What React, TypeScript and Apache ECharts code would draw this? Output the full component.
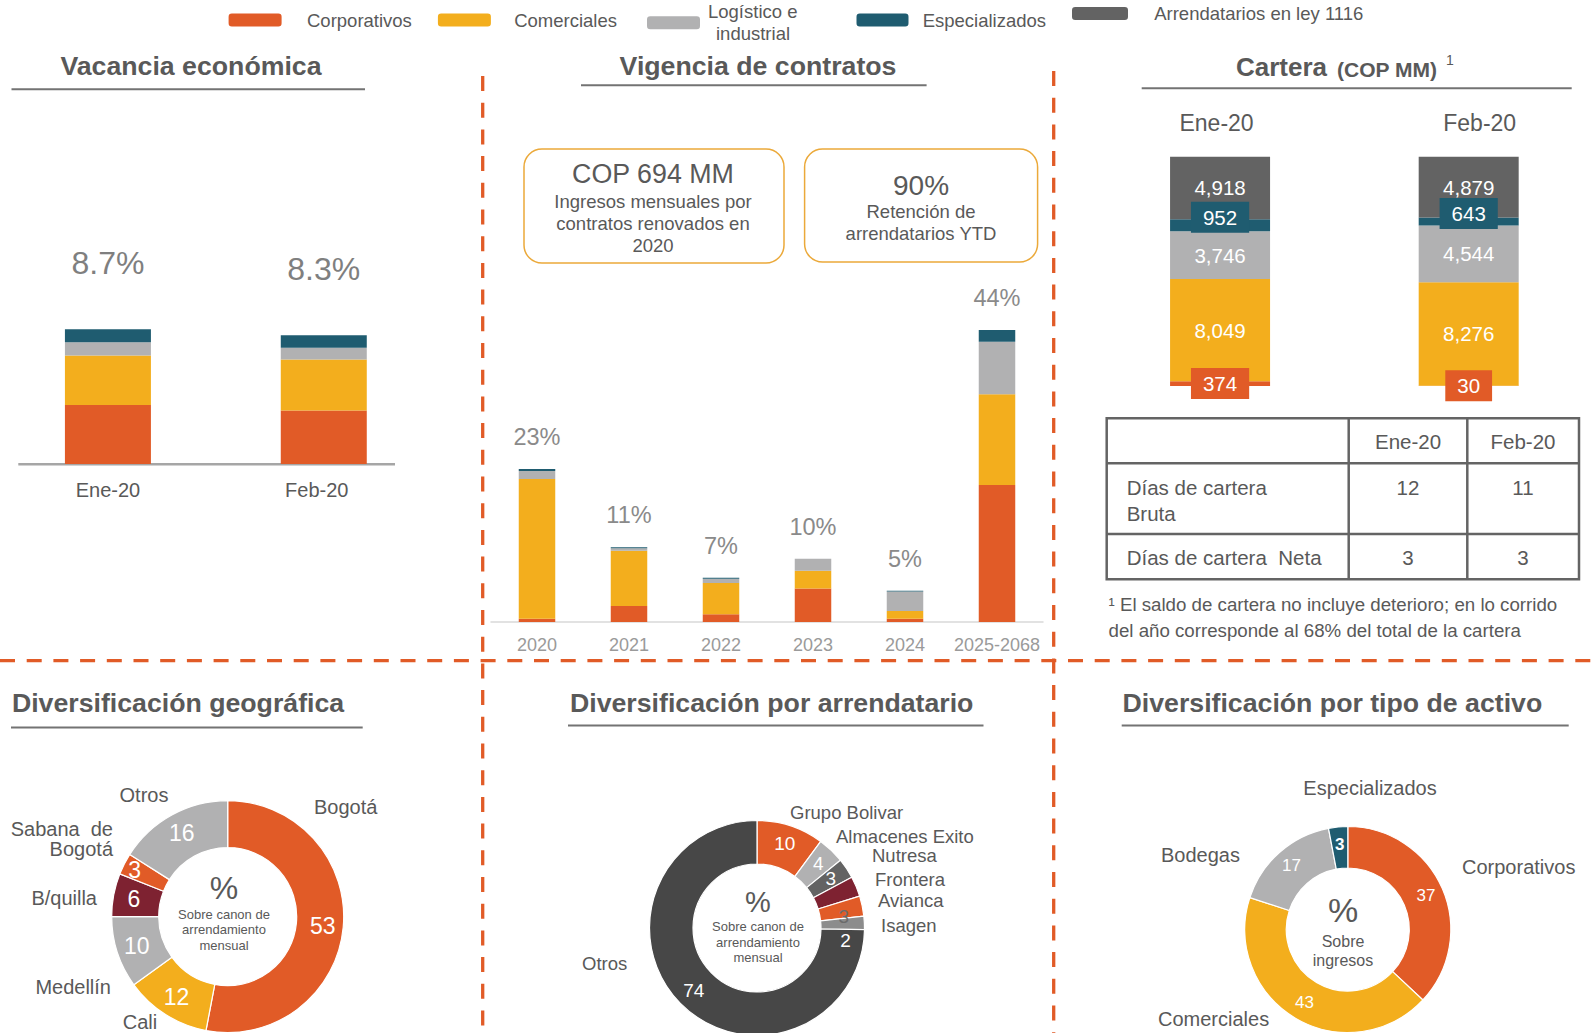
import React, { useEffect, useRef } from 'react';
import * as echarts from 'echarts';

const FONT = '"Liberation Sans", Arial, Helvetica, sans-serif';
const C_ORANGE = '#E15B27';
const C_YELLOW = '#F3AE1D';
const C_GRAY = '#B1B1B2';
const C_BLUE = '#1F5C70';
const C_DARK = '#636363';
const C_WINE = '#7E2231';
const TXT = '#595959';

// ---------- Legend ----------
const legendNames = ['Corporativos', 'Comerciales', 'Logístico e industrial', 'Especializados', 'Arrendatarios en ley 1116'];
const legendColors = [C_ORANGE, C_YELLOW, C_GRAY, C_BLUE, C_DARK];

// ---------- Vacancia económica (%) ----------
const vacCategories = ['Ene-20', 'Feb-20'];
const vacCorporativos = [3.8, 3.45];
const vacComerciales = [3.2, 3.3];
const vacLogistico = [0.85, 0.75];
const vacEspecializados = [0.85, 0.8];
const vacTotals = [8.7, 8.3];

// ---------- Vigencia de contratos (%) ----------
const vigCategories = ['2020', '2021', '2022', '2023', '2024', '2025-2068'];
const vigCorporativos = [0.5, 2.4, 1.15, 5.05, 0.5, 20.6];
const vigComerciales = [21.0, 8.3, 4.7, 2.65, 1.15, 13.65];
const vigLogistico = [1.2, 0.4, 0.65, 1.8, 2.95, 7.9];
const vigEspecializados = [0.3, 0.15, 0.15, 0, 0.1, 1.75];
const vigTotals = [23, 11, 7, 10, 5, 44];
const boxAmount = 'COP 694 MM';
const boxAmountText = 'Ingresos mensuales por\ncontratos renovados en\n2020';
const boxRetention = '90%';
const boxRetentionText = 'Retención de\narrendatarios YTD';

// ---------- Cartera (COP MM) ----------
const carCategories = ['Ene-20', 'Feb-20'];
const carCorporativos = [374, 30];
const carComerciales = [8049, 8276];
const carLogistico = [3746, 4544];
const carEspecializados = [952, 643];
const carLey1116 = [4918, 4879];

const tableHeaders = ['Ene-20', 'Feb-20'];
const tableRowLabels = ['Días de cartera\nBruta', 'Días de cartera  Neta'];
const tableValues = [[12, 11], [3, 3]];
const footnote = '¹ El saldo de cartera no incluye deterioro; en lo corrido\ndel año corresponde al 68% del total de la cartera';

// ---------- Diversificación ----------
const geoNames = ['Bogotá', 'Cali', 'Medellín', 'B/quilla', 'Sabana de Bogotá', 'Otros'];
const geoValues = [53, 12, 10, 6, 3, 16];
const tenantNames = ['Grupo Bolivar', 'Almacenes Exito', 'Nutresa', 'Frontera', 'Avianca', 'Isagen', 'Otros'];
const tenantValues = [10, 4, 3, 3, 3, 2, 74];
const assetNames = ['Corporativos', 'Comerciales', 'Bodegas', 'Especializados'];
const assetValues = [37, 43, 17, 3];

// ---------- styles / layout ----------
const geoColors = [C_ORANGE, C_YELLOW, C_GRAY, C_WINE, C_ORANGE, C_GRAY];
const tenantColors = [C_ORANGE, C_GRAY, C_DARK, C_WINE, C_ORANGE, '#8C8C8C', '#474747'];
const assetColors = [C_ORANGE, C_YELLOW, C_GRAY, C_BLUE];

const geoNamePos: [number, number, string][] = [[314, 807, 'left'], [140, 1022, 'center'], [111, 987, 'right'], [97, 898, 'right'], [113, 839, 'right'], [144, 795, 'center']];
const tenantNamePos: [number, number, string][] = [[790, 812, 'left'], [836, 836, 'left'], [872, 855, 'left'], [875, 879, 'left'], [878, 900, 'left'], [881, 925, 'left'], [582, 963, 'left']];
const assetNamePos: [number, number, string][] = [[1462, 867, 'left'], [1158, 1019, 'left'], [1161, 855, 'left'], [1370, 788, 'center']];

const TITLE_SIZE = 26.7;

const txt = (text: string, x: number, y: number, o: any = {}) => ({
  type: 'text',
  x,
  y,
  silent: true,
  style: {
    text,
    fill: o.fill || TXT,
    fontFamily: FONT,
    fontSize: o.fontSize || 18,
    fontWeight: o.fontWeight || 'normal',
    align: o.align || 'center',
    verticalAlign: o.verticalAlign || 'middle',
    lineHeight: o.lineHeight,
  },
});

const hline = (x1: number, x2: number, y: number, stroke: string, w: number, dash?: number[]) => ({
  type: 'line', silent: true,
  shape: { x1, y1: y, x2, y2: y },
  style: { stroke, lineWidth: w, lineDash: dash },
});
const vline = (x: number, y1: number, y2: number, stroke: string, w: number, dash?: number[]) => ({
  type: 'line', silent: true,
  shape: { x1: x, y1, x2: x, y2 },
  style: { stroke, lineWidth: w, lineDash: dash },
});

const bar = (name: string, data: number[], axis: number, stack: string, color: string, width: number, label?: any) => ({
  type: 'bar', name, data, xAxisIndex: axis, yAxisIndex: axis, stack, barWidth: width,
  itemStyle: { color }, label: label || { show: false }, emphasis: { disabled: true },
});

function buildOption() {
  const carTotals = carCategories.map((_, i) => carCorporativos[i] + carComerciales[i] + carLogistico[i] + carEspecializados[i] + carLey1116[i]);
  const share = (arr: number[]) => arr.map((v, i) => (v / carTotals[i]) * 100);
  const fmt = (arr: number[]) => (p: any) => arr[p.dataIndex].toLocaleString('en-US');
  const carLabel = (arr: number[], extra: any = {}) => ({
    show: true, position: 'inside', color: '#fff', fontSize: 20.5, fontFamily: FONT, formatter: fmt(arr), ...extra,
  });

  const legendLeft = [228.6, 437.9, 647, 856.5, 1072];
  const legendTop = [10.5, 10.5, 0.4, 10.5, 4];
  const legendW = [53, 53, 53, 52, 56];
  const legendPad = [20.4, 18.3, 3, 9.2, 21.2];

  const legends = legendNames.map((n, i) => ({
    show: true, selectedMode: false, left: legendLeft[i], top: legendTop[i], padding: 0,
    itemWidth: legendW[i], itemHeight: 13, icon: 'roundRect',
    data: [{ name: n, itemStyle: { color: legendColors[i] } }],
    formatter: i === 2 ? '{a|Logístico e}\n{b|industrial}' : '{name}',
    textStyle: {
      color: TXT, fontSize: 18.5, lineHeight: 19, fontFamily: FONT, padding: [0, 0, 0, legendPad[i]],
      rich: {
        a: { color: TXT, fontSize: 18.5, lineHeight: 22.3, fontFamily: FONT },
        b: { color: TXT, fontSize: 18.5, lineHeight: 22.3, fontFamily: FONT, padding: [0, 0, 0, 8] },
      },
    },
  }));

  const pieBase = (center: number[], radius: number[]) => ({
    type: 'pie', center, radius, startAngle: 90, clockwise: true,
    avoidLabelOverlap: false, emphasis: { disabled: true }, silent: true,
  });
  const pieData = (names: string[], values: number[], colors: string[], labelOv: Record<number, any> = {}) =>
    names.map((n, i) => ({ name: n, value: values[i], itemStyle: { color: colors[i] }, label: labelOv[i] }));
  const nameSeries = (center: number[], radius: number[], names: string[], values: number[], pos: [number, number, string][], fontSize: number, fmtName?: (n: string) => string) => ({
    ...pieBase(center, radius),
    z: 5,
    data: names.map((n, i) => ({ name: n, value: values[i] })),
    itemStyle: { color: 'rgba(0,0,0,0)', borderWidth: 0 },
    label: {
      show: true, position: 'outside', color: TXT, fontSize, fontFamily: FONT,
      formatter: (p: any) => (fmtName ? fmtName(p.name) : p.name),
    },
    labelLine: { show: false },
    labelLayout: (p: any) => {
      const q = pos[p.dataIndex];
      return { x: q[0], y: q[1], align: q[2], verticalAlign: 'middle' };
    },
  });

  const dash = [15, 11.7];

  const graphic: any[] = [
    // dashed separators
    hline(0, 1593, 660.7, C_ORANGE, 3.3, dash),
    vline(482.7, 76, 1033, C_ORANGE, 3.3, dash),
    vline(1053.7, 71, 1033, C_ORANGE, 3.3, dash),
    // titles
    txt('Vacancia económica', 191, 66, { fontSize: TITLE_SIZE, fontWeight: 'bold' }),
    hline(11.5, 365, 89.3, '#737373', 2),
    txt('Vigencia de contratos', 758, 66, { fontSize: TITLE_SIZE, fontWeight: 'bold' }),
    hline(581, 926.6, 85.3, '#737373', 2),
    txt('Cartera', 1236, 67, { fontSize: 26, fontWeight: 'bold', align: 'left' }),
    txt('(COP MM)', 1337, 69.5, { fontSize: 21, fontWeight: 'bold', align: 'left' }),
    txt('1', 1446, 60, { fontSize: 14, align: 'left' }),
    hline(1141.7, 1571.7, 88.3, '#737373', 2),
    txt('Diversificación geográfica', 178, 703, { fontSize: TITLE_SIZE, fontWeight: 'bold' }),
    hline(11, 362.7, 727.5, '#737373', 2),
    txt('Diversificación por arrendatario', 771.7, 703, { fontSize: TITLE_SIZE, fontWeight: 'bold' }),
    hline(568, 983.5, 725.4, '#737373', 2),
    txt('Diversificación por tipo de activo', 1332.4, 703, { fontSize: TITLE_SIZE, fontWeight: 'bold' }),
    hline(1121.7, 1568.7, 725.4, '#737373', 2),
    // vacancia baseline
    hline(18.3, 395, 464.3, '#A6A6A6', 2.5),
    // vigencia boxes
    { type: 'rect', silent: true, shape: { x: 524, y: 149, width: 260, height: 114, r: 18 }, style: { fill: 'none', stroke: '#EBA93A', lineWidth: 1.5 } },
    { type: 'rect', silent: true, shape: { x: 804.6, y: 149, width: 233, height: 113, r: 18 }, style: { fill: 'none', stroke: '#EBA93A', lineWidth: 1.5 } },
    txt(boxAmount, 653, 174, { fontSize: 26.8 }),
    txt(boxAmountText, 653, 223, { fontSize: 18.5, lineHeight: 22 }),
    txt(boxRetention, 921, 185, { fontSize: 28 }),
    txt(boxRetentionText, 921, 222.5, { fontSize: 18.5, lineHeight: 22.5 }),
    // table
    { type: 'rect', silent: true, shape: { x: 1106.7, y: 418.3, width: 472.3, height: 161 }, style: { fill: 'none', stroke: '#646464', lineWidth: 2.5 } },
    hline(1106.7, 1579, 463.3, '#646464', 2.5),
    hline(1106.7, 1579, 534, '#646464', 2.5),
    vline(1348.7, 418.3, 579.3, '#646464', 2.5),
    vline(1467.3, 418.3, 579.3, '#646464', 2.5),
    txt(tableHeaders[0], 1408, 441.5, { fontSize: 20.5 }),
    txt(tableHeaders[1], 1523, 441.5, { fontSize: 20.5 }),
    txt(tableRowLabels[0], 1126.7, 474, { fontSize: 20.5, align: 'left', verticalAlign: 'top', lineHeight: 26 }),
    txt(String(tableValues[0][0]), 1408, 487, { fontSize: 20.5 }),
    txt(String(tableValues[0][1]), 1523, 487, { fontSize: 20.5 }),
    txt(tableRowLabels[1], 1126.7, 557, { fontSize: 20.5, align: 'left' }),
    txt(String(tableValues[1][0]), 1408, 557, { fontSize: 20.5 }),
    txt(String(tableValues[1][1]), 1523, 557, { fontSize: 20.5 }),
    txt(footnote, 1108.5, 617.3, { fontSize: 18.7, align: 'left', lineHeight: 25.5 }),
    // pie centers
    txt('%', 224, 888, { fontSize: 32 }),
    txt('Sobre canon de\narrendamiento\nmensual', 224, 929.5, { fontSize: 13, lineHeight: 15.5 }),
    txt('%', 758, 902, { fontSize: 29 }),
    txt('Sobre canon de\narrendamiento\nmensual', 758, 942, { fontSize: 13, lineHeight: 15.3 }),
    txt('%', 1343, 910, { fontSize: 34 }),
    txt('Sobre\ningresos', 1343, 950.5, { fontSize: 16, lineHeight: 19 }),
  ];

  return {
    animation: false,
    textStyle: { fontFamily: FONT },
    legend: legends,
    graphic,
    grid: [
      { left: -1.3, width: 433, top: 309, height: 155 },
      { left: 491, width: 552, top: 289.5, height: 332.5 },
      { left: 1095.75, width: 501, top: 156.7, height: 229.3 },
    ],
    xAxis: [
      {
        type: 'category', gridIndex: 0, data: vacCategories, axisLine: { show: false }, axisTick: { show: false },
        axisLabel: {
          color: TXT, fontSize: 20, margin: 16, interval: 0,
          formatter: (v: string, i: number) => (i === 1 ? '{f|' + v + '}' : '{e|' + v + '}'),
          rich: { e: { color: TXT, fontSize: 20 }, f: { color: TXT, fontSize: 20, padding: [0, 14, 0, 0] } },
        },
      },
      { type: 'category', gridIndex: 1, data: vigCategories, axisLine: { lineStyle: { color: '#D9D9D9', width: 1.5 } }, axisTick: { show: false }, axisLabel: { color: '#9A9A9A', fontSize: 18, margin: 14, interval: 0, hideOverlap: false } },
      {
        type: 'category', gridIndex: 2, position: 'top', data: carCategories, axisLine: { show: false }, axisTick: { show: false },
        axisLabel: {
          color: TXT, fontSize: 23, margin: 22, interval: 0,
          formatter: (v: string, i: number) => (i === 1 ? '{f|' + v + '}' : '{e|' + v + '}'),
          rich: { e: { color: TXT, fontSize: 23, padding: [0, 7, 0, 0] }, f: { color: TXT, fontSize: 23, padding: [0, 0, 0, 22] } },
        },
      },
    ],
    yAxis: [
      { type: 'value', gridIndex: 0, min: 0, max: 10, show: false },
      { type: 'value', gridIndex: 1, min: 0, max: 50, show: false },
      { type: 'value', gridIndex: 2, min: 0, max: 100, show: false },
    ],
    series: [
      // vacancia
      bar('Corporativos', vacCorporativos, 0, 'vac', C_ORANGE, 86),
      bar('Comerciales', vacComerciales, 0, 'vac', C_YELLOW, 86),
      bar('Logístico e industrial', vacLogistico, 0, 'vac', C_GRAY, 86),
      bar('Especializados', vacEspecializados, 0, 'vac', C_BLUE, 86, {
        show: true, position: 'top', distance: 50, fontSize: 32, color: '#7F7F7F', fontFamily: FONT,
        formatter: (p: any) => vacTotals[p.dataIndex].toFixed(1) + '%',
      }),
      // vigencia
      bar('Corporativos', vigCorporativos, 1, 'vig', C_ORANGE, 36.5),
      bar('Comerciales', vigComerciales, 1, 'vig', C_YELLOW, 36.5),
      bar('Logístico e industrial', vigLogistico, 1, 'vig', C_GRAY, 36.5),
      bar('Especializados', vigEspecializados, 1, 'vig', C_BLUE, 36.5, {
        show: true, position: 'top', distance: 20, fontSize: 23.5, color: '#8A8A8A', fontFamily: FONT,
        formatter: (p: any) => vigTotals[p.dataIndex] + '%',
      }),
      // cartera (100% stacked)
      bar('Corporativos', share(carCorporativos), 2, 'car', C_ORANGE, 100, carLabel(carCorporativos, { backgroundColor: C_ORANGE, padding: [5, 12] })),
      bar('Comerciales', share(carComerciales), 2, 'car', C_YELLOW, 100, carLabel(carComerciales)),
      bar('Logístico e industrial', share(carLogistico), 2, 'car', C_GRAY, 100, carLabel(carLogistico)),
      bar('Especializados', share(carEspecializados), 2, 'car', C_BLUE, 100, carLabel(carEspecializados, { backgroundColor: C_BLUE, padding: [5, 12], offset: [0, -8] })),
      bar('Arrendatarios en ley 1116', share(carLey1116), 2, 'car', C_DARK, 100, carLabel(carLey1116)),
      // pies
      {
        ...pieBase([227.7, 916.6], [69, 116]), name: 'geo',
        data: pieData(geoNames, geoValues, geoColors, { 4: { offset: [-8, -3] } }),
        itemStyle: { borderColor: '#fff', borderWidth: 1.2 },
        label: { show: true, position: 'inside', formatter: '{c}', color: '#fff', fontSize: 23, fontFamily: FONT },
        labelLine: { show: false },
      },
      nameSeries([227.7, 916.6], [69, 116], geoNames, geoValues, geoNamePos, 20, (n) => (n === 'Sabana de Bogotá' ? 'Sabana  de\nBogotá' : n)),
      {
        ...pieBase([757, 928], [64, 107.5]), name: 'tenant',
        data: pieData(tenantNames, tenantValues, tenantColors, { 4: { offset: [0, 7], color: '#6B6B6B' }, 5: { offset: [0, 17] } }),
        itemStyle: { borderColor: '#fff', borderWidth: 1.2 },
        label: { show: true, position: 'inside', formatter: '{c}', color: '#fff', fontSize: 19, fontFamily: FONT },
        labelLine: { show: false },
      },
      nameSeries([757, 928], [64, 107.5], tenantNames, tenantValues, tenantNamePos, 18.5),
      {
        ...pieBase([1347.8, 929.5], [61.5, 103]), name: 'asset',
        data: pieData(assetNames, assetValues, assetColors, { 3: { fontWeight: 'bold' } }),
        itemStyle: { borderColor: '#fff', borderWidth: 1.2 },
        label: { show: true, position: 'inside', formatter: '{c}', color: '#fff', fontSize: 17, fontFamily: FONT },
        labelLine: { show: false },
      },
      nameSeries([1347.8, 929.5], [61.5, 103], assetNames, assetValues, assetNamePos, 20),
    ],
  };
}

export default function App() {
  const ref = useRef<HTMLDivElement>(null);
  useEffect(() => {
    document.body.style.margin = '0';
    const chart = echarts.init(ref.current as HTMLDivElement, null, { renderer: 'svg' });
    chart.setOption(buildOption() as any);
    return () => chart.dispose();
  }, []);
  return <div ref={ref} style={{ width: 1593, height: 1033 }} />;
}
